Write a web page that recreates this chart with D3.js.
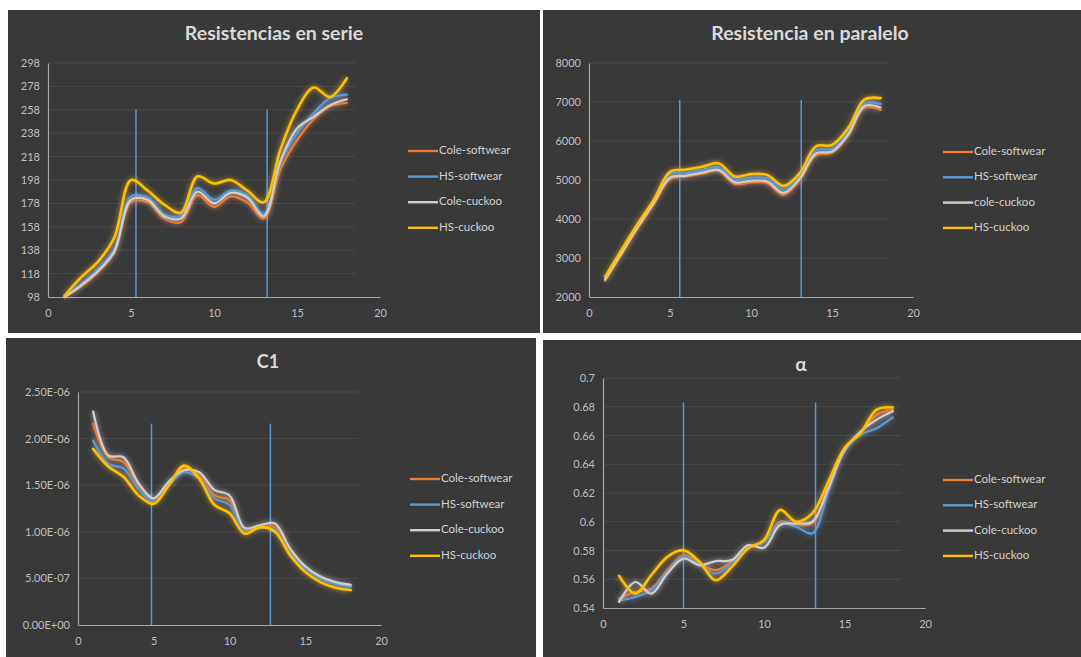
<!DOCTYPE html>
<html>
<head>
<meta charset="utf-8">
<script src="https://cdn.jsdelivr.net/npm/d3@7"></script>
<style>
  html, body { margin: 0; padding: 0; background: #ffffff; }
  svg { display: block; }
  text { font-family: Lato, "Open Sans", "Liberation Sans", sans-serif; }
</style>
</head>
<body>
<svg id="chart" width="1081" height="657"></svg>
<script>
// Sample index shared by every series
const xs = [1, 2, 3, 4, 5, 6, 7, 8, 9, 10, 11, 12, 13, 14, 15, 16, 17, 18];
const xTicks = [0, 5, 10, 15, 20];

const seriesNames = ["Cole-softwear", "HS-softwear", "Cole-cuckoo", "HS-cuckoo"];
const seriesNamesParalelo = ["Cole-softwear", "HS-softwear", "cole-cuckoo", "HS-cuckoo"];
const seriesColors = ["#ed7d31", "#5b9bd5", "#cfcfcf", "#ffc000"];

// Resistencias en serie
const serieTicks = [98, 118, 138, 158, 178, 198, 218, 238, 258, 278, 298];
const serieColeSoft = [98, 107, 119, 136, 179, 179, 165, 162, 185, 175, 184, 179, 165, 207, 232, 250, 261, 264];
const serieHSSoft   = [99, 109, 122, 139, 184, 183, 169, 167, 191, 181, 189, 185, 169, 212, 238, 255, 268, 271];
const serieColeCuck = [98, 108, 120, 137, 181, 181, 167, 165, 188, 178, 187, 183, 167, 214, 242, 252, 262, 267];
const serieHSCuck   = [99, 115, 128, 149, 198, 189, 177, 170, 201, 195, 198, 189, 179, 224, 258, 277, 269, 285];
const serieMarkers = [5.3, 13.2];
const serieMarkerTop = 258;

// Resistencia en paralelo
const paraleloTicks = [2000, 3000, 4000, 5000, 6000, 7000, 8000];
const paraleloColeSoft = [2420, 3090, 3760, 4380, 5020, 5090, 5160, 5230, 4900, 4940, 4920, 4620, 4990, 5630, 5700, 6130, 6850, 6800];
const paraleloHSSoft   = [2480, 3150, 3820, 4440, 5140, 5180, 5260, 5330, 5010, 5060, 5040, 4760, 5090, 5760, 5800, 6230, 6960, 6950];
const paraleloColeCuck = [2450, 3120, 3790, 4410, 5060, 5110, 5190, 5260, 4940, 4980, 4960, 4670, 5030, 5680, 5730, 6170, 6900, 6860];
const paraleloHSCuck   = [2520, 3200, 3870, 4490, 5210, 5270, 5340, 5430, 5090, 5150, 5130, 4850, 5170, 5860, 5900, 6330, 7060, 7100];
const paraleloMarkers = [5.6, 13.1];
const paraleloMarkerTop = 7050;

// C1
const c1Ticks = [0, 5e-7, 1e-6, 1.5e-6, 2e-6, 2.5e-6];
const c1ColeSoft = [2.16e-6, 1.80e-6, 1.75e-6, 1.50e-6, 1.35e-6, 1.52e-6, 1.68e-6, 1.61e-6, 1.39e-6, 1.34e-6, 1.01e-6, 1.05e-6, 1.05e-6, 0.79e-6, 0.61e-6, 0.50e-6, 0.45e-6, 0.42e-6];
const c1HSSoft   = [1.98e-6, 1.73e-6, 1.68e-6, 1.46e-6, 1.32e-6, 1.50e-6, 1.64e-6, 1.57e-6, 1.36e-6, 1.29e-6, 1.00e-6, 1.04e-6, 1.02e-6, 0.77e-6, 0.61e-6, 0.50e-6, 0.44e-6, 0.41e-6];
const c1ColeCuck = [2.29e-6, 1.82e-6, 1.80e-6, 1.52e-6, 1.36e-6, 1.54e-6, 1.66e-6, 1.64e-6, 1.45e-6, 1.39e-6, 1.04e-6, 1.07e-6, 1.09e-6, 0.82e-6, 0.63e-6, 0.52e-6, 0.46e-6, 0.43e-6];
const c1HSCuck   = [1.89e-6, 1.70e-6, 1.59e-6, 1.39e-6, 1.30e-6, 1.50e-6, 1.71e-6, 1.57e-6, 1.29e-6, 1.20e-6, 0.98e-6, 1.05e-6, 1.00e-6, 0.75e-6, 0.57e-6, 0.46e-6, 0.40e-6, 0.375e-6];
const c1Markers = [4.85, 12.7];
const c1MarkerTop = 2.16e-6;

// α
const alphaTicks = [0.54, 0.56, 0.58, 0.6, 0.62, 0.64, 0.66, 0.68, 0.7];
const alphaColeSoft = [0.5465, 0.5512, 0.5535, 0.5663, 0.5767, 0.5709, 0.5663, 0.5721, 0.5826, 0.586, 0.600, 0.5981, 0.5988, 0.6256, 0.6512, 0.6617, 0.6745, 0.6779];
const alphaHSSoft   = [0.5453, 0.5477, 0.5523, 0.5651, 0.5756, 0.5698, 0.564, 0.571, 0.5814, 0.586, 0.5988, 0.5965, 0.5919, 0.621, 0.6489, 0.6605, 0.6651, 0.6726];
const alphaColeCuck = [0.5442, 0.5581, 0.550, 0.564, 0.5744, 0.5698, 0.5726, 0.5733, 0.5837, 0.5819, 0.5977, 0.5988, 0.600, 0.6233, 0.650, 0.6628, 0.671, 0.6768];
const alphaHSCuck   = [0.5623, 0.550, 0.5628, 0.5756, 0.5802, 0.572, 0.5593, 0.5686, 0.5814, 0.5872, 0.6082, 0.600, 0.6058, 0.628, 0.6512, 0.6617, 0.678, 0.6795];
const alphaMarkers = [5.0, 13.2];
const alphaMarkerTop = 0.683;

const fmtExp = v => {
  const [m, e] = v.toExponential(2).split("e");
  const n = parseInt(e, 10);
  return m + "E" + (n < 0 ? "-" : "+") + String(Math.abs(n)).padStart(2, "0");
};

const panels = [
  {
    title: "Resistencias en serie", titleSize: 19.5,
    box: [8, 10, 532, 323], plot: [48, 380, 63, 297], titlePos: [274, 35],
    legend: [408, 151, 25.6],
    yDomain: [98, 298], yTicks: serieTicks, fmt: d => String(d),
    names: seriesNames,
    series: [serieColeSoft, serieHSSoft, serieColeCuck, serieHSCuck],
    markers: serieMarkers, markerTop: serieMarkerTop
  },
  {
    title: "Resistencia en paralelo", titleSize: 19.5,
    box: [543, 10, 538, 323], plot: [589, 913, 63, 297], titlePos: [810, 35],
    legend: [943, 152, 25.3],
    yDomain: [2000, 8000], yTicks: paraleloTicks, fmt: d => String(d),
    names: seriesNamesParalelo,
    series: [paraleloColeSoft, paraleloHSSoft, paraleloColeCuck, paraleloHSCuck],
    markers: paraleloMarkers, markerTop: paraleloMarkerTop
  },
  {
    title: "C1", titleSize: 18,
    box: [6, 338, 530, 319], plot: [78, 381, 392, 625], titlePos: [268, 363],
    legend: [410, 479, 25.6],
    yDomain: [0, 2.5e-6], yTicks: c1Ticks, fmt: fmtExp,
    names: seriesNames,
    series: [c1ColeSoft, c1HSSoft, c1ColeCuck, c1HSCuck],
    markers: c1Markers, markerTop: c1MarkerTop
  },
  {
    title: "α", titleSize: 19,
    box: [541, 340, 540, 317], plot: [603, 925, 378, 608], titlePos: [801, 366],
    legend: [943, 480, 25.3],
    yDomain: [0.54, 0.7], yTicks: alphaTicks, fmt: d => String(+d.toFixed(2)),
    names: seriesNames,
    series: [alphaColeSoft, alphaHSSoft, alphaColeCuck, alphaHSCuck],
    markers: alphaMarkers, markerTop: alphaMarkerTop
  }
];

const svg = d3.select("#chart");

// Soft halo that the lines carry
const defs = svg.append("defs");
defs.append("filter").attr("id", "halo")
  .attr("x", "-10%").attr("y", "-10%").attr("width", "120%").attr("height", "120%")
  .append("feGaussianBlur").attr("stdDeviation", 2.4);

panels.forEach(p => {
  const g = svg.append("g");
  const [bx, by, bw, bh] = p.box;
  g.append("rect").attr("x", bx).attr("y", by).attr("width", bw).attr("height", bh)
    .attr("fill", "#393939");

  const [px0, px1, py0, py1] = p.plot;
  const x = d3.scaleLinear().domain([0, 20]).range([px0, px1]);
  const y = d3.scaleLinear().domain(p.yDomain).range([py1, py0]);

  // Title
  g.append("text").attr("x", p.titlePos[0]).attr("y", p.titlePos[1])
    .attr("text-anchor", "middle").attr("dominant-baseline", "middle")
    .attr("font-size", p.titleSize).attr("font-weight", "bold")
    .attr("fill", "#d9d9d9").text(p.title);

  // Horizontal gridlines
  g.append("g").selectAll("line").data(p.yTicks.slice(1)).join("line")
    .attr("x1", px0).attr("x2", x(18.5))
    .attr("y1", d => y(d)).attr("y2", d => y(d))
    .attr("stroke", "#4a4a4a").attr("stroke-width", 1);

  // Axes
  const yAxis = d3.axisLeft(y).tickValues(p.yTicks).tickFormat(p.fmt).tickSize(0).tickPadding(8);
  const xAxis = d3.axisBottom(x).tickValues(xTicks).tickFormat(d3.format("d")).tickSize(0).tickPadding(12);
  const ya = g.append("g").attr("transform", `translate(${px0},0)`).call(yAxis);
  const xa = g.append("g").attr("transform", `translate(0,${py1})`).call(xAxis);
  [ya, xa].forEach(a => {
    a.select(".domain").attr("stroke", "#a6a6a6").attr("stroke-width", 1.2);
    a.selectAll("text").attr("fill", "#bfbfbf").attr("font-size", 11)
      .attr("font-family", "Lato, 'Open Sans', sans-serif");
  });

  // Vertical marker lines
  g.append("g").selectAll("line").data(p.markers).join("line")
    .attr("x1", d => x(d)).attr("x2", d => x(d))
    .attr("y1", y(p.markerTop)).attr("y2", py1)
    .attr("stroke", "#5b9bd5").attr("stroke-width", 1.5);

  const line = d3.line().x((d, i) => x(xs[i])).y(d => y(d)).curve(d3.curveCatmullRom.alpha(0.5));

  // Halos first, then the series strokes
  const halo = g.append("g").attr("filter", "url(#halo)").attr("opacity", 0.5);
  p.series.forEach((s, i) => {
    halo.append("path").attr("d", line(s)).attr("fill", "none")
      .attr("stroke", seriesColors[i]).attr("stroke-width", 4);
  });
  p.series.forEach((s, i) => {
    g.append("path").attr("d", line(s)).attr("fill", "none")
      .attr("stroke", seriesColors[i]).attr("stroke-width", i === 3 ? 2.6 : 2.2)
      .attr("stroke-linejoin", "round").attr("stroke-linecap", "round");
  });

  // Legend
  const [lx, ly, ldy] = p.legend;
  const lg = g.append("g");
  p.names.forEach((n, i) => {
    const yy = ly + i * ldy;
    lg.append("line").attr("x1", lx).attr("x2", lx + 30).attr("y1", yy).attr("y2", yy)
      .attr("stroke", seriesColors[i]).attr("stroke-width", 2.4);
    lg.append("text").attr("x", lx + 31).attr("y", yy).attr("dominant-baseline", "middle")
      .attr("font-size", 11.5).attr("fill", "#d0d0d0").text(n);
  });
});

// Thin white seams between the four panels
svg.append("line").attr("x1", 0).attr("x2", 1081).attr("y1", 335.5).attr("y2", 335.5)
  .attr("stroke", "#ffffff").attr("stroke-width", 4);
svg.append("line").attr("x1", 541.5).attr("x2", 541.5).attr("y1", 0).attr("y2", 657)
  .attr("stroke", "#ffffff").attr("stroke-width", 3);
</script>
</body>
</html>
